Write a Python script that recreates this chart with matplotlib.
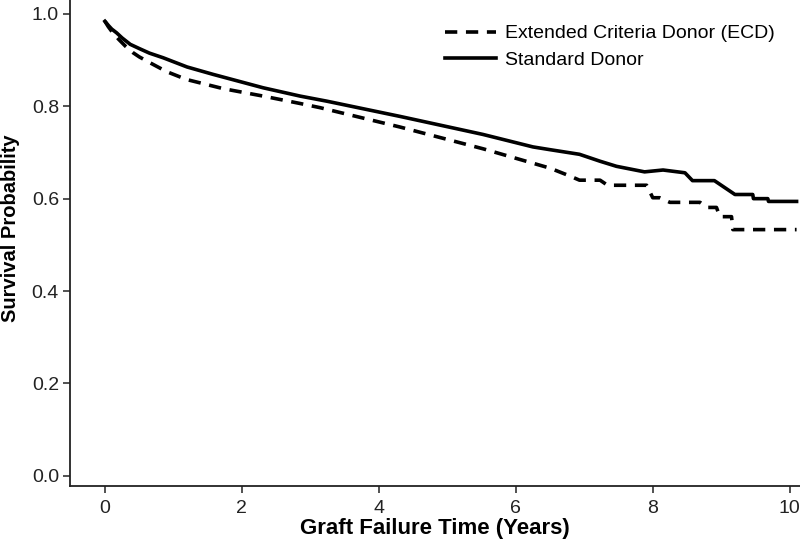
import matplotlib
matplotlib.use("Agg")
import matplotlib.pyplot as plt

# Kaplan-Meier style curves (years, survival probability)
std_years = [0.0, 0.05, 0.1, 0.17, 0.25, 0.37, 0.5, 0.65, 0.85, 1.2, 1.58,
             2.31, 2.85, 3.24, 4.31, 5.52, 6.25, 6.5, 6.93, 7.23, 7.47, 7.88,
             8.15, 8.47, 8.58, 8.9, 9.2, 9.46, 9.47, 9.68, 9.69, 10.1]
std_surv = [0.984, 0.975, 0.967, 0.959, 0.948, 0.934, 0.925, 0.915, 0.905,
            0.885, 0.869, 0.840, 0.822, 0.811, 0.778, 0.739, 0.712, 0.706,
            0.696, 0.681, 0.670, 0.658, 0.662, 0.656, 0.639, 0.639, 0.609,
            0.609, 0.600, 0.600, 0.594, 0.594]

ecd_years = [0.0, 0.05, 0.1, 0.2, 0.3, 0.41, 0.5, 0.66, 0.9, 1.19, 1.73,
             2.31, 2.85, 3.14, 4.31, 5.52, 6.5, 6.79, 6.93, 7.08, 7.23, 7.34,
             7.91, 8.0, 8.1, 8.25, 8.69, 8.79, 8.93, 8.98, 9.15, 9.17, 10.1]
ecd_surv = [0.984, 0.972, 0.962, 0.945, 0.93, 0.916, 0.907, 0.894, 0.875,
            0.858, 0.838, 0.822, 0.806, 0.797, 0.755, 0.708, 0.666, 0.649,
            0.640, 0.640, 0.640, 0.629, 0.629, 0.602, 0.602, 0.592, 0.592,
            0.581, 0.581, 0.561, 0.561, 0.533, 0.533]

plt.rcParams['font.family'] = ['Liberation Sans', 'DejaVu Sans']

fig = plt.figure(figsize=(8, 5.44), dpi=100)
ax = fig.add_axes([0.0875, 0.1066, 0.9125, 0.8934])

ax.plot(ecd_years, ecd_surv, color='black', lw=2.6, linestyle=(0, (3.4, 2.4)),
        label='Extended Criteria Donor (ECD)')
ax.plot(std_years, std_surv, color='black', lw=2.6, label='Standard Donor')

ax.set_xlim(-0.51, 10.15)
ax.set_ylim(-0.022, 1.03)
ax.set_xticks([0, 2, 4, 6, 8, 10])
ax.set_yticks([0.0, 0.2, 0.4, 0.6, 0.8, 1.0])
ax.set_yticklabels(['0.0', '0.2', '0.4', '0.6', '0.8', '1.0'])

for side in ['top', 'right']:
    ax.spines[side].set_visible(False)
for side in ['left', 'bottom']:
    ax.spines[side].set_linewidth(1.3)
    ax.spines[side].set_color('#222222')

ax.tick_params(direction='out', length=5, width=1.1, labelsize=14,
               colors='#222222', labelcolor='#222222', pad=3)
ax.tick_params(axis='x', pad=5)

ax.set_xlabel('Graft Failure Time (Years)', fontsize=16, fontweight='bold',
              labelpad=1)
ax.set_ylabel('Survival Probability', fontsize=14.5, fontweight='bold')
ax.yaxis.set_label_coords(-0.068, 0.531)

ax.legend(loc='upper right', bbox_to_anchor=(0.99, 0.985), frameon=False,
          fontsize=14, handlelength=2.6, handletextpad=0.5,
          labelspacing=0.45)

fig.savefig('out.png', dpi=100)
